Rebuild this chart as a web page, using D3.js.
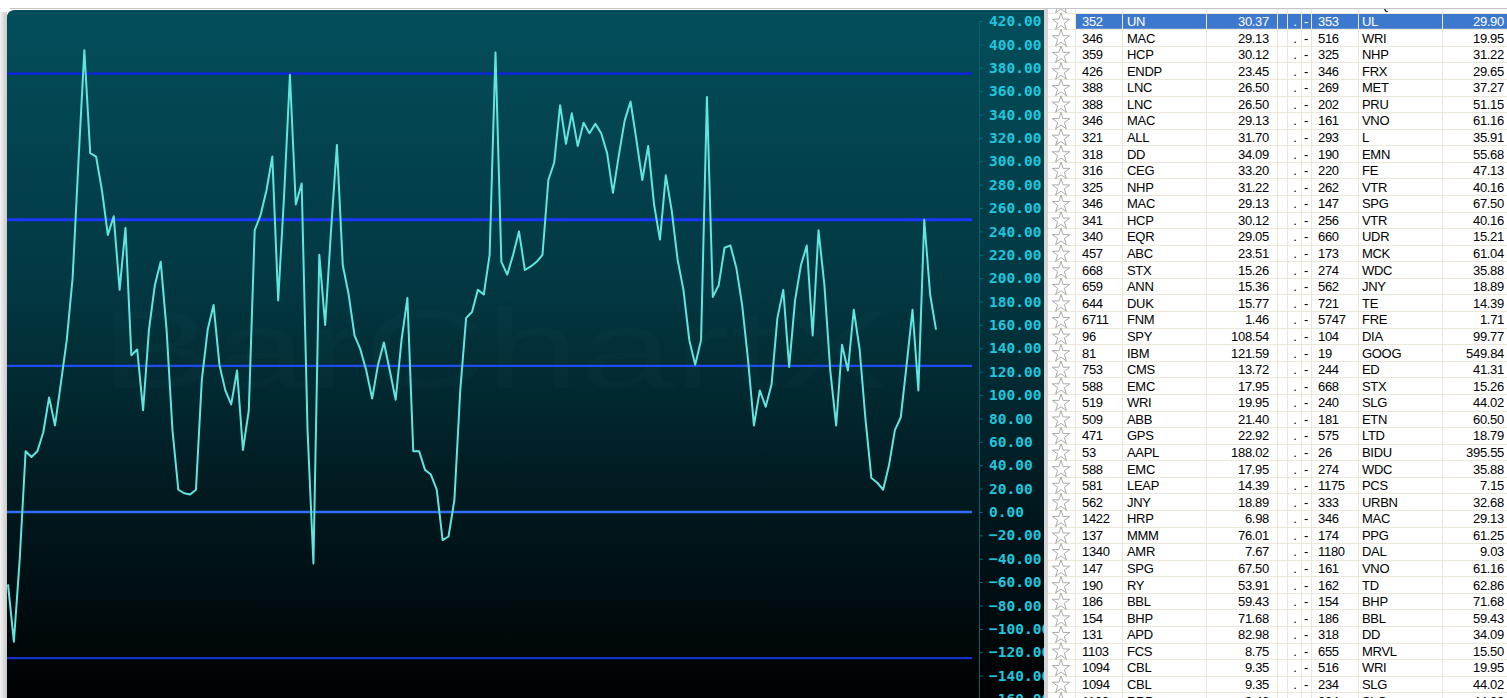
<!DOCTYPE html>
<html>
<head>
<meta charset="utf-8">
<script src="https://cdn.jsdelivr.net/npm/d3@7.9.0/dist/d3.min.js"></script>
<style>
  html, body { margin: 0; padding: 0; background: #ffffff; overflow: hidden; }
  svg { display: block; }
</style>
</head>
<body>
<svg id="chart" width="1507" height="698"></svg>
<script>
// ---------- Data ----------
const seriesValues = [
  -62, -111, -40, 52, 47, 52, 68, 98, 74, 110,
  147, 200, 300, 395, 307, 304, 275, 237, 253, 190, 243,
  134, 139, 87, 156, 194, 214, 156, 70, 19, 16,
  15, 19, 113, 156, 177, 126, 104, 92, 121, 53,
  87, 241, 254, 275, 304, 181, 270, 374, 263, 281,
  70, -44, 220, 160, 241, 314, 211, 186, 151, 139,
  121, 97, 126, 145, 121, 96, 147, 183, 52, 52,
  36, 32, 19, -24, -21, 10, 104, 166, 171, 190,
  186, 220, 393, 214, 203, 220, 240, 207, 210, 214,
  220, 284, 299, 348, 315, 341, 313, 333, 324, 332,
  324, 307, 273, 305, 335, 351, 318, 284, 313, 263,
  233, 288, 258, 216, 190, 147, 126, 147, 355, 184,
  194, 226, 228, 209, 177, 130, 74, 104, 90, 109,
  166, 190, 124, 181, 211, 228, 151, 241, 194, 121,
  74, 143, 121, 173, 139, 79, 29, 25, 19, 40,
  70, 81, 126, 173, 104, 250, 186, 156
];

// horizontal reference levels
const levelValues = [375, 250, 125, 0, -125];
const levelColors = ["#1020e6", "#1a36ff", "#1d4cf2", "#2f6dff", "#1433c4"];

// y axis tick labels
const yTickValues = [420, 400, 380, 360, 340, 320, 300, 280, 260, 240, 220, 200, 180, 160,
  140, 120, 100, 80, 60, 40, 20, 0, -20, -40, -60, -80, -100, -120, -140, -160];

// pair table (first row is the half-hidden one at the top, last one at the bottom)
const leftCount = ["304", "352", "346", "359", "426", "388", "388", "346", "321", "318", "316", "325", "346", "341",
  "340", "457", "668", "659", "644", "6711", "96", "81", "753", "588", "519", "509", "471", "53",
  "588", "581", "562", "1422", "137", "1340", "147", "190", "186", "154", "131", "1103", "1094", "1094", "1102"];
const leftSym = ["USB", "UN", "MAC", "HCP", "ENDP", "LNC", "LNC", "MAC", "ALL", "DD", "CEG", "NHP", "MAC", "HCP",
  "EQR", "ABC", "STX", "ANN", "DUK", "FNM", "SPY", "IBM", "CMS", "EMC", "WRI", "ABB", "GPS", "AAPL",
  "EMC", "LEAP", "JNY", "HRP", "MMM", "AMR", "SPG", "RY", "BBL", "BHP", "APD", "FCS", "CBL", "CBL", "RRD"];
const leftPrice = ["28.90", "30.37", "29.13", "30.12", "23.45", "26.50", "26.50", "29.13", "31.70", "34.09", "33.20", "31.22", "29.13", "30.12",
  "29.05", "23.51", "15.26", "15.36", "15.77", "1.46", "108.54", "121.59", "13.72", "17.95", "19.95", "21.40", "22.92", "188.02",
  "17.95", "14.39", "18.89", "6.98", "76.01", "7.67", "67.50", "53.91", "59.43", "71.68", "82.98", "8.75", "9.35", "9.35", "9.43"];
const rightCount = ["287", "353", "516", "325", "346", "269", "202", "161", "293", "190", "220", "262", "147", "256",
  "660", "173", "274", "562", "721", "5747", "104", "19", "244", "668", "240", "181", "575", "26",
  "274", "1175", "333", "346", "174", "1180", "161", "162", "154", "186", "318", "655", "516", "234", "224"];
const rightSym = ["HPQ", "UL", "WRI", "NHP", "FRX", "MET", "PRU", "VNO", "L", "EMN", "FE", "VTR", "SPG", "VTR",
  "UDR", "MCK", "WDC", "JNY", "TE", "FRE", "DIA", "GOOG", "ED", "STX", "SLG", "ETN", "LTD", "BIDU",
  "WDC", "PCS", "URBN", "MAC", "PPG", "DAL", "VNO", "TD", "BHP", "BBL", "DD", "MRVL", "WRI", "SLG", "SLG"];
const rightPrice = ["33.64", "29.90", "19.95", "31.22", "29.65", "37.27", "51.15", "61.16", "35.91", "55.68", "47.13", "40.16", "67.50", "40.16",
  "15.21", "61.04", "35.88", "18.89", "14.39", "1.71", "99.77", "549.84", "41.31", "15.26", "44.02", "60.50", "18.79", "395.55",
  "35.88", "7.15", "32.68", "29.13", "61.25", "9.03", "61.16", "62.86", "71.68", "59.43", "34.09", "15.50", "19.95", "44.02", "44.02"];
const selectedRow = 1;

// ---------- Layout ----------
const svg = d3.select("#chart");
const panel = { left: 7, top: 10, right: 1044, bottom: 698 };
const plot = { left: 7, right: 972 };
const axisX = 979;

const y = d3.scaleLinear().domain([-160, 420]).range([699, 21]);
const x = d3.scaleLinear().domain([0, seriesValues.length - 1]).range([8, 936]);

const defs = svg.append("defs");
const grad = defs.append("linearGradient")
  .attr("id", "bg").attr("x1", 0).attr("y1", 0).attr("x2", 0).attr("y2", 1);
grad.append("stop").attr("offset", "0%").attr("stop-color", "#034e5b");
grad.append("stop").attr("offset", "40%").attr("stop-color", "#023842");
grad.append("stop").attr("offset", "70%").attr("stop-color", "#011a20");
grad.append("stop").attr("offset", "100%").attr("stop-color", "#000102");

const shadow = defs.append("linearGradient")
  .attr("id", "shadow").attr("x1", 0).attr("y1", 0).attr("x2", 1).attr("y2", 0);
shadow.append("stop").attr("offset", "0%").attr("stop-color", "#f2f2f2");
shadow.append("stop").attr("offset", "100%").attr("stop-color", "#c9c9c9");

defs.append("clipPath").attr("id", "panelClip")
  .append("rect")
  .attr("x", panel.left).attr("y", panel.top)
  .attr("width", panel.right - panel.left).attr("height", panel.bottom - panel.top);

defs.append("clipPath").attr("id", "tableClip")
  .append("rect")
  .attr("x", 1048).attr("y", 9).attr("width", 1507 - 1048).attr("height", 698 - 9);

// page background bits
svg.append("rect").attr("x", 0).attr("y", 0).attr("width", 1507).attr("height", 698).attr("fill", "#ffffff");
svg.append("rect").attr("x", 0).attr("y", 12).attr("width", 7).attr("height", 686).attr("fill", "url(#shadow)");
svg.append("line").attr("x1", 10).attr("x2", 1507).attr("y1", 8.5).attr("y2", 8.5)
  .attr("stroke", "#c4c4c4").attr("stroke-width", 1);

// chart panel
svg.append("path")
  .attr("d", `M${panel.left},${panel.bottom} V${panel.top + 8} Q${panel.left},${panel.top} ${panel.left + 8},${panel.top} H${panel.right} V${panel.bottom} Z`)
  .attr("fill", "url(#bg)");

const g = svg.append("g").attr("clip-path", "url(#panelClip)");

// watermark
g.append("text")
  .attr("x", 100).attr("y", 388)
  .attr("font-family", "Liberation Sans, Arial, sans-serif")
  .attr("font-size", 112)
  .attr("textLength", 790)
  .attr("lengthAdjust", "spacingAndGlyphs")
  .attr("fill", "#ffffff").attr("fill-opacity", 0.016)
  .text("BarChartX");

// reference levels
g.selectAll("line.level")
  .data(levelValues)
  .join("line")
  .attr("class", "level")
  .attr("x1", plot.left).attr("x2", plot.right)
  .attr("y1", (d) => y(d)).attr("y2", (d) => y(d))
  .attr("stroke", (d, i) => levelColors[i])
  .attr("stroke-width", (d) => (d === 250 ? 3 : 2.4));

// series
const line = d3.line().x((d, i) => x(i)).y((d) => y(d));
g.append("path")
  .datum(seriesValues)
  .attr("d", line)
  .attr("fill", "none")
  .attr("stroke", "#5fe6df")
  .attr("stroke-width", 2)
  .attr("stroke-linejoin", "round");

// y axis on the right
const yAxis = d3.axisRight(y)
  .tickValues(yTickValues)
  .tickFormat(d3.format(".2f"))
  .tickSize(4)
  .tickPadding(6);

const axisG = g.append("g")
  .attr("transform", `translate(${axisX},0)`)
  .call(yAxis);
axisG.select(".domain").attr("stroke", "#0b5e6c").attr("stroke-width", 1);
axisG.selectAll(".tick line").attr("stroke", "#0d6677");
axisG.selectAll(".tick text")
  .attr("fill", "#1fc6dc")
  .attr("font-family", "DejaVu Sans Mono, monospace")
  .attr("font-weight", "bold")
  .attr("font-size", 14.5);

// separator between chart and table
svg.append("rect").attr("x", 1044).attr("y", 9).attr("width", 4).attr("height", 689).attr("fill", "#d4d4d4");

// ---------- Table ----------
const rowH = 16.575;
const rowY = d3.scaleLinear().domain([0, 1]).range([21 - rowH, 21]); // row 0 is the partially hidden one
const colBorders = [1075, 1122, 1206, 1277, 1287, 1301, 1311, 1358, 1442];

const t = svg.append("g").attr("clip-path", "url(#tableClip)");
t.append("rect").attr("x", 1048).attr("y", 9).attr("width", 459).attr("height", 689).attr("fill", "#ffffff");

const rows = d3.range(leftCount.length);

// selected row highlight
t.append("rect")
  .attr("x", 1075).attr("y", rowY(selectedRow) - rowH / 2 + 0.5)
  .attr("width", 1507 - 1075).attr("height", rowH - 1)
  .attr("fill", "#3d78cf");

// grid lines
t.selectAll("line.h")
  .data(rows)
  .join("line")
  .attr("class", "h")
  .attr("x1", 1048).attr("x2", 1507)
  .attr("y1", (d) => Math.round(rowY(d) + rowH / 2) + 0.5)
  .attr("y2", (d) => Math.round(rowY(d) + rowH / 2) + 0.5)
  .attr("stroke", "#ebe7d9");
t.selectAll("line.v")
  .data(colBorders)
  .join("line")
  .attr("class", "v")
  .attr("x1", (d) => d + 0.5).attr("x2", (d) => d + 0.5)
  .attr("y1", 9).attr("y2", 698)
  .attr("stroke", "#ebe7d9");

// stars
const star = d3.symbol().type(d3.symbolStar).size(95);
t.selectAll("path.star")
  .data(rows)
  .join("path")
  .attr("class", "star")
  .attr("d", star)
  .attr("transform", (d) => `translate(1061,${rowY(d) + 1})`)
  .attr("fill", "#ffffff")
  .attr("stroke", "#a9a9a9")
  .attr("stroke-width", 1);

const cells = [
  { data: leftCount, x: 1082, anchor: "start" },
  { data: leftSym, x: 1127, anchor: "start" },
  { data: leftPrice, x: 1269, anchor: "end" },
  { data: rows.map(() => "."), x: 1295, anchor: "middle" },
  { data: rows.map(() => "-"), x: 1306, anchor: "middle" },
  { data: rightCount, x: 1318, anchor: "start" },
  { data: rightSym, x: 1362, anchor: "start" },
  { data: rightPrice, x: 1504, anchor: "end" }
];

cells.forEach((col) => {
  t.append("g")
    .selectAll("text")
    .data(col.data)
    .join("text")
    .attr("x", col.x)
    .attr("y", (d, i) => rowY(i) + 5)
    .attr("text-anchor", col.anchor)
    .attr("font-family", "Liberation Sans, Arial, sans-serif")
    .attr("font-size", 13)
    .attr("letter-spacing", -0.3)
    .attr("fill", (d, i) => (i === selectedRow ? "#ffffff" : "#000000"))
    .text((d) => d);
});
</script>
</body>
</html>
